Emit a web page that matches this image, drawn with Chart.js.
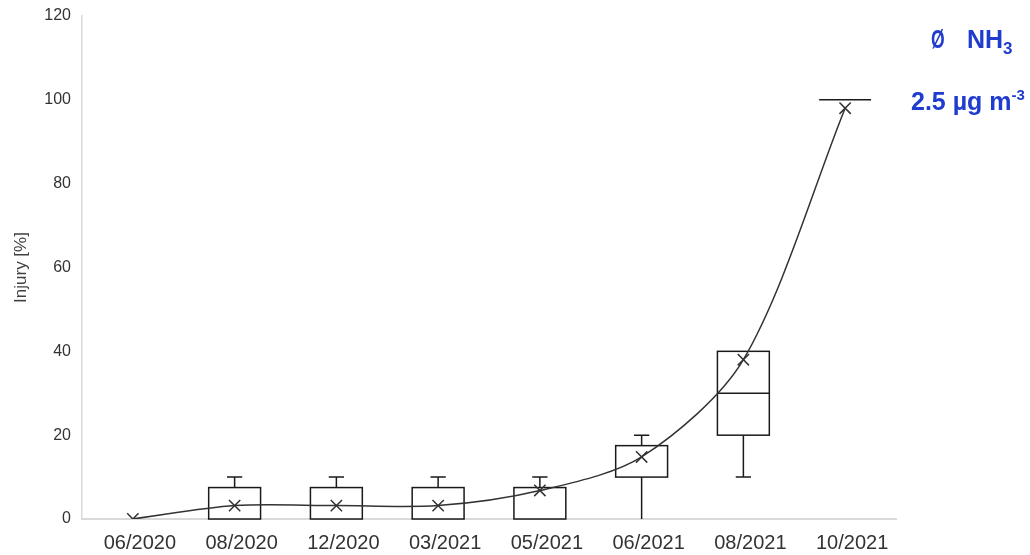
<!DOCTYPE html>
<html>
<head>
<meta charset="utf-8">
<script src="https://cdn.jsdelivr.net/npm/chart.js@4"></script>
<style>
  html, body { margin: 0; padding: 0; background: #ffffff; }
  #wrap { position: relative; width: 1030px; height: 555px; }
  .note {
    position: absolute;
    font-family: 'Liberation Sans', Arial, sans-serif;
    font-weight: bold;
    font-size: 25px;
    line-height: 25px;
    color: #1f3ccf;
    white-space: nowrap;
  }
  .note .diam { display: inline-block; transform: scaleX(0.7); transform-origin: left center; width: 13px; }
  .note .sub { font-size: 17px; vertical-align: -6px; }
  .note .sup { font-size: 15px; vertical-align: 10px; }
</style>
</head>
<body>
<div id="wrap">
  <canvas id="chart"></canvas>
  <div class="note" style="left:931px; top:27px;"><span class="diam">Ø</span><span style="display:inline-block;width:23px"></span>NH<span class="sub">3</span></div>
  <div class="note" style="left:911px; top:82px;">2.5 µg m<span class="sup">-3</span></div>
</div>
<script>
// Sampling dates
const categories = ['06/2020', '08/2020', '12/2020', '03/2021', '05/2021', '06/2021', '08/2021', '10/2021'];
// Box-plot statistics of injury (%) per date
const whiskerLow  = [0, 0,   0,   0,   0,   0,    10, 100];
const q1          = [0, 0,   0,   0,   0,   10,   20, 100];
const medians     = [0, 0,   0,   0,   0,   10,   30, 100];
const q3          = [0, 7.5, 7.5, 7.5, 7.5, 17.5, 40, 100];
const whiskerHigh = [0, 10,  10,  10,  10,  20,   40, 100];
// Mean injury (%) per date
const means       = [0, 3.2, 3.2, 3.2, 6.8, 14.8, 38, 98];
// Y axis range
const yMin = 0, yMax = 120, yStep = 20;

Chart.defaults.font.family = "'Liberation Sans', Arial, sans-serif";

// Draws boxes, medians and whiskers from the statistics arrays via the chart scales
const boxPlotPlugin = {
  id: 'boxPlot',
  beforeDatasetsDraw(chart) {
    const { ctx, scales: { x, y } } = chart;
    const slot = x.width / categories.length;
    const half = slot * 0.255;
    const capHalf = slot * 0.075;
    ctx.save();
    ctx.strokeStyle = '#1a1a1a';
    ctx.lineWidth = 1.5;
    ctx.fillStyle = '#ffffff';
    categories.forEach((c, i) => {
      const allSame = whiskerLow[i] === whiskerHigh[i];
      if (allSame && whiskerLow[i] === yMin) return;
      const cx = x.getPixelForValue(i);
      const yQ1 = y.getPixelForValue(q1[i]);
      const yQ3 = y.getPixelForValue(q3[i]);
      const yMed = y.getPixelForValue(medians[i]);
      const yLo = y.getPixelForValue(whiskerLow[i]);
      const yHi = y.getPixelForValue(whiskerHigh[i]);
      ctx.beginPath();
      // upper whisker
      if (whiskerHigh[i] > q3[i]) {
        ctx.moveTo(cx, yQ3); ctx.lineTo(cx, yHi);
        ctx.moveTo(cx - capHalf, yHi); ctx.lineTo(cx + capHalf, yHi);
      }
      // lower whisker (its cap sits on the axis line when it reaches the minimum)
      if (whiskerLow[i] < q1[i]) {
        ctx.moveTo(cx, yQ1); ctx.lineTo(cx, yLo);
        if (whiskerLow[i] > yMin) {
          ctx.moveTo(cx - capHalf, yLo); ctx.lineTo(cx + capHalf, yLo);
        }
      }
      ctx.stroke();
      if (q3[i] > q1[i]) {
        ctx.fillRect(cx - half, yQ3, half * 2, yQ1 - yQ3);
        ctx.strokeRect(cx - half, yQ3, half * 2, yQ1 - yQ3);
      } else {
        ctx.beginPath();
        ctx.moveTo(cx - half, yQ3); ctx.lineTo(cx + half, yQ3);
        ctx.stroke();
      }
      if (medians[i] > q1[i] && medians[i] < q3[i]) {
        ctx.beginPath();
        ctx.moveTo(cx - half, yMed); ctx.lineTo(cx + half, yMed);
        ctx.stroke();
      }
    });
    ctx.restore();
  }
};

new Chart(document.getElementById('chart'), {
  type: 'line',
  data: {
    labels: categories,
    datasets: [{
      label: 'Mean',
      data: means,
      borderColor: '#333333',
      borderWidth: 1.5,
      tension: 0.3,
      pointStyle: 'crossRot',
      pointRadius: 8,
      pointBorderWidth: 1.5,
      pointBorderColor: '#333333',
      pointBackgroundColor: '#333333',
      fill: false
    }]
  },
  options: {
    responsive: true,
    maintainAspectRatio: false,
    animation: false,
    layout: { padding: { left: 0, right: 134, top: 16, bottom: 0 } },
    plugins: {
      legend: { display: false },
      tooltip: { enabled: false }
    },
    scales: {
      x: {
        z: 1,
        offset: true,
        grid: { display: false, offset: true },
        border: { color: '#d9d9d9', width: 2 },
        ticks: { color: '#333333', font: { size: 20 }, padding: 4, labelOffset: 7, maxRotation: 0, autoSkip: false },
        afterFit(scale) { scale.height = 36; }
      },
      y: {
        min: yMin,
        max: yMax,
        grid: { display: false },
        border: { color: '#d9d9d9', width: 1.5 },
        ticks: { stepSize: yStep, color: '#333333', font: { size: 16 }, padding: 3 },
        title: {
          display: true,
          text: 'Injury [%]',
          color: '#404040',
          font: { size: 17 },
          padding: { top: 11, bottom: 0 }
        },
        afterFit(scale) { scale.width = 82; }
      }
    }
  },
  plugins: [boxPlotPlugin]
});
</script>
</body>
</html>
